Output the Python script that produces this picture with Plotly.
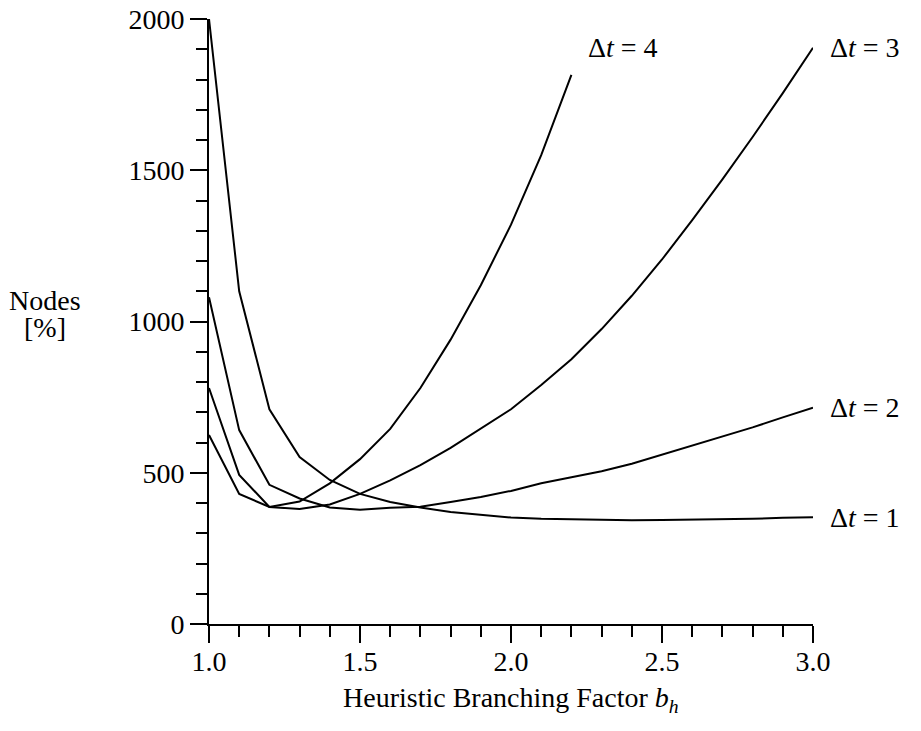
import plotly.graph_objects as go

# Data
x_full = [1.0, 1.1, 1.2, 1.3, 1.4, 1.5, 1.6, 1.7, 1.8, 1.9, 2.0,
          2.1, 2.2, 2.3, 2.4, 2.5, 2.6, 2.7, 2.8, 2.9, 3.0]
x_dt4 = [1.0, 1.1, 1.2, 1.3, 1.4, 1.5, 1.6, 1.7, 1.8, 1.9, 2.0, 2.1, 2.2]

nodes_dt1 = [2000, 1100, 710, 552, 476, 430, 403, 385, 370, 360, 352,
             348, 346, 344, 343, 344, 345, 346, 348, 351, 353]
nodes_dt2 = [1080, 641, 460, 415, 385, 378, 384, 388, 403, 420, 440,
             465, 485, 505, 530, 560, 590, 620, 650, 683, 715]
nodes_dt3 = [780, 493, 387, 380, 395, 430, 475, 525, 582, 645, 710,
             790, 875, 975, 1085, 1205, 1335, 1470, 1610, 1755, 1905]
nodes_dt4 = [625, 430, 387, 405, 465, 545, 645, 780, 940, 1120, 1320, 1550, 1815]

series = [
    ("Δ<i>t</i> = 1", x_full, nodes_dt1, 0),
    ("Δ<i>t</i> = 2", x_full, nodes_dt2, 0),
    ("Δ<i>t</i> = 3", x_full, nodes_dt3, 0),
    ("Δ<i>t</i> = 4", x_dt4, nodes_dt4, 27),
]

FONT = "Liberation Serif"
FS = 28
txt_font = dict(family=FONT, size=FS, color="black")

fig = go.Figure()
annotations = []
for label, xs, ys, yshift in series:
    fig.add_trace(go.Scatter(x=xs, y=ys, mode="lines",
                             line=dict(color="black", width=2),
                             cliponaxis=False, showlegend=False))
    annotations.append(dict(x=xs[-1], y=ys[-1], xref="x", yref="y",
                            text=label, showarrow=False, xanchor="left",
                            yanchor="middle", xshift=15, yshift=yshift,
                            font=txt_font))

# y-axis title (horizontal, two lines)
annotations.append(dict(x=-0.271, y=0.535, xref="paper", yref="paper",
                        text="Nodes", showarrow=False,
                        xanchor="center", yanchor="middle", font=txt_font))
annotations.append(dict(x=-0.271, y=0.49, xref="paper", yref="paper",
                        text="[%]", showarrow=False,
                        xanchor="center", yanchor="middle", font=txt_font))
# x-axis title
annotations.append(dict(x=0.5, y=-0.124, xref="paper", yref="paper",
                        text="Heuristic Branching Factor <i>b<sub>h</sub></i>",
                        showarrow=False, xanchor="center", yanchor="middle",
                        font=txt_font))

axis_common = dict(
    showgrid=False, zeroline=False, showline=True, linecolor="black",
    linewidth=2, ticks="outside", ticklen=17, tickwidth=2,
    tickcolor="black", tickfont=txt_font, automargin=False,
    ticklabeloverflow="allow",
)

fig.update_layout(
    width=913, height=723,
    margin=dict(l=201, r=108, t=11, b=107, autoexpand=False),
    plot_bgcolor="white", paper_bgcolor="white",
    annotations=annotations,
    xaxis=dict(range=[1.0, 3.0], tickvals=[1.0, 1.5, 2.0, 2.5, 3.0],
               ticktext=["1.0", "1.5", "2.0", "2.5", "3.0"],
               minor=dict(dtick=0.1, tick0=1.0, ticks="outside", ticklen=11,
                          tickwidth=2, tickcolor="black"),
               ticklabelstandoff=-6,
               **axis_common),
    yaxis=dict(range=[0, 2000], tickvals=[0, 500, 1000, 1500, 2000],
               ticktext=["0", "500", "1000", "1500", "2000"],
               minor=dict(dtick=100, tick0=0, ticks="outside", ticklen=11,
                          tickwidth=2, tickcolor="black"),
               ticklabelstandoff=0,
               **axis_common),
)

fig.write_html("out.html")
